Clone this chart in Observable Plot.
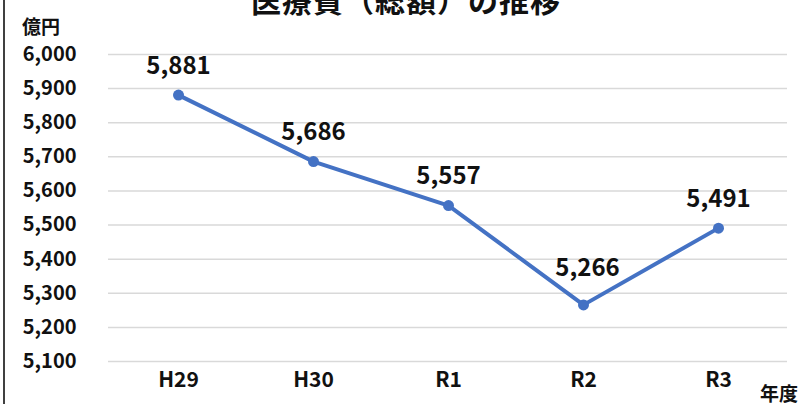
<!DOCTYPE html>
<html><head><meta charset="utf-8">
<script src="https://cdn.jsdelivr.net/npm/d3@7"></script>
<script src="https://cdn.jsdelivr.net/npm/@observablehq/plot@0.6"></script>
<style>
html,body{margin:0;padding:0;background:#fff;}
#wrap{position:relative;width:805px;height:404px;overflow:hidden;font-family:"Noto Sans CJK JP",sans-serif;}
#wrap .border{position:absolute;left:3px;top:0;width:2px;height:404px;background:#404040;}
#wrap .title{position:absolute;left:0;width:812px;top:-23px;text-align:center;font-size:30px;font-weight:bold;color:#111;letter-spacing:1px;}
#wrap .yunit{position:absolute;left:22px;top:12px;font-size:19px;font-weight:bold;color:#111;}
#wrap .xunit{position:absolute;left:760px;top:379px;font-size:19px;font-weight:bold;color:#111;}
#chart{position:absolute;left:0;top:0;}
#chart text.lbl{letter-spacing:0.5px;}
</style></head>
<body>
<div id="wrap">
  <div class="border"></div>
  <div id="chart"></div>
  <div class="title">医療費（総額）の推移</div>
  <div class="yunit">億円</div>
  <div class="xunit">年度</div>
</div>
<script>
const years = ["H29", "H30", "R1", "R2", "R3"];
const values = [5881, 5686, 5557, 5266, 5491];
const yTicks = [5100, 5200, 5300, 5400, 5500, 5600, 5700, 5800, 5900, 6000];

const data = years.map((y, i) => ({year: y, value: values[i]}));
const fmt = d3.format(",");
const font = "'Noto Sans CJK JP', sans-serif";

const plot = Plot.plot({
  width: 805,
  height: 404,
  marginLeft: 108,
  marginRight: 18,
  marginTop: 54,
  marginBottom: 43,
  style: {fontFamily: font, background: "transparent", color: "#111"},
  x: {type: "point", domain: years, padding: 0.5, label: null},
  y: {domain: [5100, 6000], label: null},
  marks: [
    Plot.gridY(yTicks, {stroke: "#d9d9d9", strokeOpacity: 1, strokeWidth: 1.5}),
    Plot.axisY({ticks: yTicks, tickSize: 0, tickPadding: 32, tickFormat: fmt, fontSize: 20, fontWeight: "bold", label: null}),
    Plot.axisX({tickSize: 0, tickPadding: 11, fontSize: 21, fontWeight: "bold", label: null}),
    Plot.line(data, {x: "year", y: "value", stroke: "#4472C4", strokeWidth: 4}),
    Plot.dot(data, {x: "year", y: "value", r: 5.5, fill: "#4472C4", stroke: "none"}),
    Plot.text(data.filter(d => d.year !== "R2"), {x: "year", y: "value", text: d => fmt(d.value), dy: -29, fontSize: 24, fontWeight: "bold", fill: "#111"}),
    Plot.text(data.filter(d => d.year === "R2"), {x: "year", y: "value", text: d => fmt(d.value), dy: -37, dx: 4, fontSize: 24, fontWeight: "bold", fill: "#111"})
  ]
});
document.getElementById("chart").appendChild(plot);
</script>
</body></html>
